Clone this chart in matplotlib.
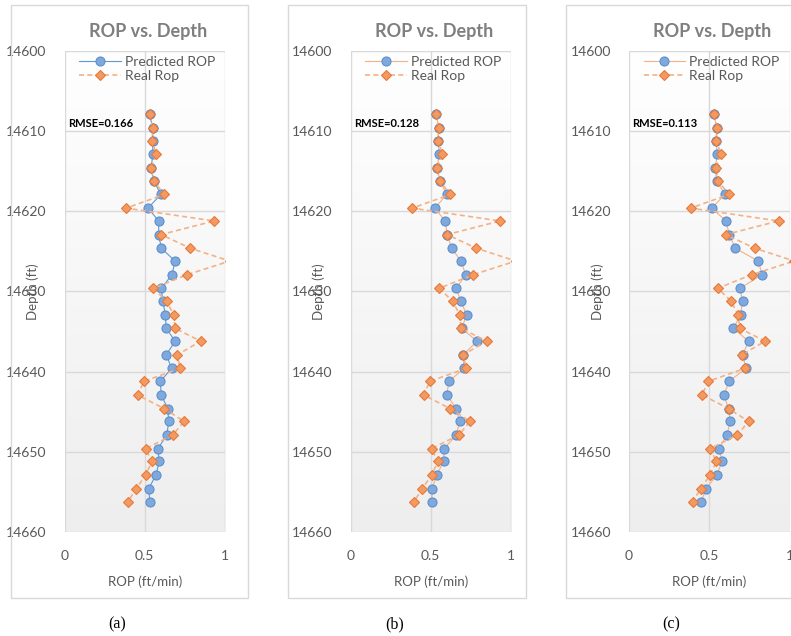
import numpy as np
import matplotlib
matplotlib.use("Agg")
from matplotlib import pyplot as plt
from matplotlib.patches import Rectangle

plt.rcParams['font.family'] = ['Lato', 'DejaVu Sans']

# depth of each sample (ft)
depth = [14607.9, 14609.6, 14611.2, 14612.9, 14614.6, 14616.2, 14617.9, 14619.6,
         14621.2, 14622.9, 14624.6, 14626.2, 14627.9, 14629.6, 14631.2, 14632.9,
         14634.6, 14636.2, 14637.9, 14639.6, 14641.2, 14642.9, 14644.6, 14646.2,
         14647.9, 14649.6, 14651.2, 14652.9, 14654.6, 14656.2]

# measured rop (ft/min)
real_rop = [0.53, 0.55, 0.545, 0.573, 0.54, 0.555, 0.622, 0.384, 0.932, 0.602,
            0.783, 1.03, 0.764, 0.553, 0.636, 0.68, 0.69, 0.848, 0.703, 0.72,
            0.495, 0.455, 0.62, 0.745, 0.675, 0.505, 0.545, 0.505, 0.447, 0.396]

# model predictions for the three cases
pred_a = [0.53, 0.55, 0.55, 0.55, 0.54, 0.557, 0.60, 0.52, 0.587, 0.587,
          0.603, 0.689, 0.67, 0.603, 0.613, 0.628, 0.634, 0.689, 0.634, 0.668,
          0.597, 0.603, 0.643, 0.649, 0.638, 0.582, 0.59, 0.57, 0.524, 0.532]
pred_b = [0.533, 0.551, 0.545, 0.553, 0.539, 0.558, 0.599, 0.526, 0.589, 0.603,
          0.63, 0.688, 0.718, 0.659, 0.687, 0.724, 0.693, 0.788, 0.703, 0.707,
          0.614, 0.599, 0.659, 0.68, 0.66, 0.583, 0.58, 0.537, 0.508, 0.506]
pred_c = [0.529, 0.546, 0.542, 0.55, 0.537, 0.546, 0.598, 0.515, 0.604, 0.625,
          0.662, 0.805, 0.83, 0.691, 0.708, 0.695, 0.65, 0.745, 0.708, 0.729,
          0.623, 0.592, 0.62, 0.631, 0.61, 0.56, 0.581, 0.546, 0.481, 0.45]

rmse_labels = ['RMSE=0.166', 'RMSE=0.128', 'RMSE=0.113']
panel_labels = ['(a)', '(b)', '(c)']
predictions = [pred_a, pred_b, pred_c]

BLUE = '#5B9BD5'
LIGHT_ORANGE = '#F4B183'
GRID = '#d9d9d9'
TEXT = '#595959'

W, H = 791, 636
fig = plt.figure(figsize=(W / 100, H / 100), dpi=100)

# pixel layout of each chart: (box left, box right, plot left)
layout = [(11, 248, 64.5), (288, 526, 350.5), (566, 800, 629)]
pred_line_colors = [BLUE, LIGHT_ORANGE, LIGHT_ORANGE]

grad = np.linspace(0.0, 1.0, 256).reshape(-1, 1)
grad_cmap = matplotlib.colors.LinearSegmentedColormap.from_list('bg', ['#ffffff', '#eeeeee'])

for i, (bx0, bx1, px0) in enumerate(layout):
    # chart border
    fig.patches.append(Rectangle((bx0 / W, 1 - 598 / H), (bx1 - bx0) / W, (598 - 5) / H,
                                 transform=fig.transFigure, fill=False,
                                 edgecolor=GRID, lw=1.0))
    ax = fig.add_axes([px0 / W, 1 - 532 / H, 160.5 / W, 481 / H])
    ax.imshow(grad, aspect='auto', cmap=grad_cmap, extent=(0, 1, 0, 1),
              transform=ax.transAxes, zorder=0, vmin=0, vmax=1)

    ax.plot(predictions[i], depth, '-', color=pred_line_colors[i], lw=0.8,
            marker='o', ms=6.5, mfc='#7fa9dc', mec='#5b8fcf', mew=0.8,
            label='Predicted ROP', zorder=3)
    ax.plot(real_rop, depth, '--', color=LIGHT_ORANGE, lw=1.2, dashes=(3, 2),
            marker='D', ms=5.5, mfc='#f29a61', mec='#e6793a', mew=0.8,
            label='Real Rop', zorder=4)

    ax.set_xlim(0, 1)
    ax.set_ylim(14660, 14600)
    ax.set_xticks([0, 0.5, 1])
    ax.set_xticklabels(['0', '0.5', '1'])
    ax.set_yticks(np.arange(14600, 14661, 10))
    ax.grid(True, color=GRID, lw=1.0)
    ax.set_axisbelow(True)
    for s in ax.spines.values():
        s.set_visible(False)
    ax.tick_params(length=0, labelsize=10, colors=TEXT)
    ax.tick_params(axis='y', pad=13)
    ax.tick_params(axis='x', pad=13)

    ax.set_xlabel('ROP (ft/min)', fontsize=9.5, color=TEXT, labelpad=10)
    ax.set_ylabel('Depth (ft)', fontsize=9.5, color=TEXT, labelpad=-24)
    ax.set_title('ROP vs. Depth', fontsize=13, fontweight='bold', color='#7f7f7f', pad=10,
                 x=0.52)

    ax.text(0.02, 14609.0, rmse_labels[i], fontsize=8, fontweight='bold', color='black',
            transform=ax.get_yaxis_transform(), va='center', ha='left')

    leg = ax.legend(loc='upper left', bbox_to_anchor=(0.03, 1.01), frameon=False,
                    fontsize=10, handlelength=3.0, handletextpad=0.3,
                    labelspacing=0.15, borderpad=0.2)
    for t in leg.get_texts():
        t.set_color(TEXT)

    fig.text(((bx0 + bx1) / 2 - 12) / W, 1 - 624 / H, panel_labels[i],
             family='Liberation Serif', fontsize=11.5, ha='center', va='center')

fig.savefig('out.png', dpi=100)
